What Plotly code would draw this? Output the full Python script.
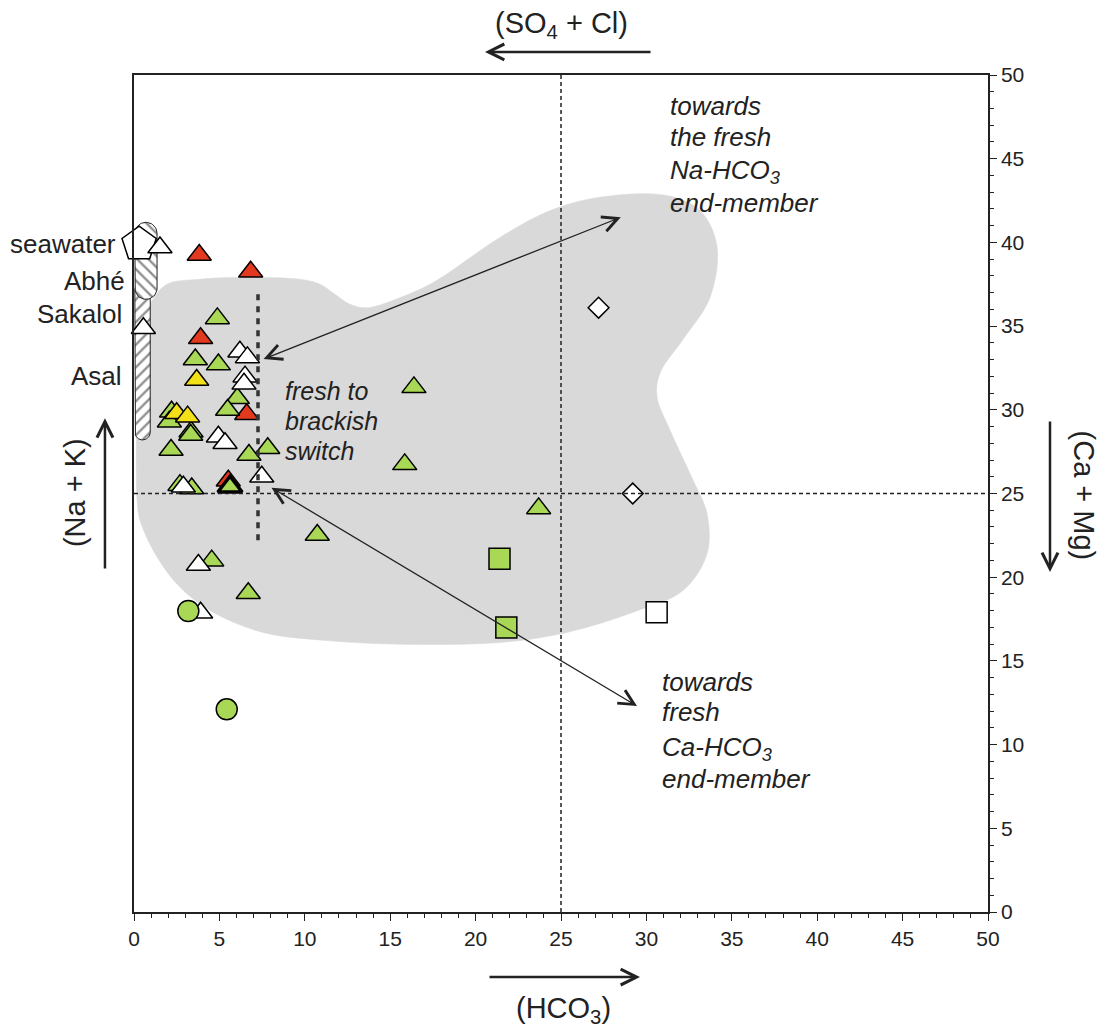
import numpy as np
import plotly.graph_objects as go

FONT = "Liberation Sans, Arial, Helvetica, sans-serif"
GREEN = "#A8D856"
RED = "#E3391F"
YELLOW = "#F2E018"
INK = "#222222"

# ---- samples (HCO3 %, Na+K %) ----
red_tri_x = [3.82, 6.83, 3.90, 6.60, 5.52]
red_tri_y = [39.25, 38.25, 34.27, 29.73, 25.76]

yellow_tri_x = [3.67, 2.50, 3.14]
yellow_tri_y = [31.78, 29.79, 29.59]

green_tri_x = [4.88, 3.59, 4.94, 6.05, 5.48, 2.20, 2.07, 3.34, 3.32, 2.17, 6.73,
               7.83, 2.69, 3.38, 16.39, 15.85, 10.73, 23.69, 4.55, 6.69]
green_tri_y = [35.46, 33.00, 32.70, 30.69, 29.99, 29.88, 29.29, 28.69, 28.49, 27.60,
               27.30, 27.70, 25.50, 25.30, 31.34, 26.74, 22.52, 24.11, 20.99, 19.04]

white_tri_x = [1.52, 0.55, 6.20, 6.64, 6.50, 6.44, 4.94, 5.33, 7.48, 2.89, 3.77, 3.90]
white_tri_y = [39.70, 34.87, 33.47, 33.13, 31.98, 31.55, 28.39, 28.00, 26.00, 25.40, 20.73, 17.88]

bold_tri_x = [5.62]
bold_tri_y = [25.40]

green_circle_x = [3.18, 5.43]
green_circle_y = [17.98, 12.11]

green_square_x = [21.40, 21.80]
green_square_y = [21.10, 17.00]

white_square_x = [30.60]
white_square_y = [17.90]

white_diamond_x = [27.20, 29.20]
white_diamond_y = [36.10, 25.00]

seawater_x = [0.30]
seawater_y = [39.90]

# ---- lake fields (x centre, half width, y bottom, y top) ----
abhe_field = (0.70, 0.65, 36.6, 41.2)
asal_field = (0.50, 0.45, 28.2, 37.6)

# ---- outline of the shaded domain ----
domain_x = [0.18, 0.18, 0.35, 1.11, 1.93, 3.86, 5.80, 9.72, 10.89, 11.77, 12.65, 13.64,
            15.57, 17.51, 21.43, 24.36, 27.28, 31.20, 33.14, 34.13, 33.72, 32.14, 30.80,
            30.62, 31.38, 32.73, 33.55, 33.55, 32.14, 29.22, 25.35, 21.43, 15.57, 11.48,
            7.55, 4.63, 2.69, 1.35, 0.35, 0.18]
domain_y = [24.6, 30.6, 34.8, 36.6, 37.5, 37.8, 37.9, 37.8, 37.5, 36.9, 36.3, 36.1,
            36.7, 37.6, 40.3, 41.9, 42.7, 42.8, 41.9, 39.8, 36.7, 34.2, 32.2,
            30.8, 28.8, 25.8, 23.8, 21.4, 19.2, 17.9, 16.7, 16.1, 16.0, 16.2,
            16.7, 17.9, 19.4, 21.2, 23.4, 24.6]

# fresh-to-brackish switch line
switch_x = 7.26
switch_y = (22.2, 36.9)

# mixing arrows (tail, head)
arrow_na = ((7.5, 33.0), (28.5, 41.5))
arrow_ca = ((7.96, 25.4), (29.45, 12.3))

# text blocks: (x, [line y positions], [lines])
na_note = (31.26, [48.15, 46.30, 44.22, 42.38],
           ["towards", "the fresh", "Na-HCO<sub>3</sub>", "end-member"])
ca_note = (30.80, [13.74, 11.95, 9.78, 7.93],
           ["towards", "fresh", "Ca-HCO<sub>3</sub>", "end-member"])
switch_note = (8.72, [31.12, 29.33, 27.54], ["fresh to", "brackish", "switch"])

side_labels = ["seawater", "Abhé", "Sakalol", "Asal"]
side_label_y = [39.9, 37.7, 35.7, 32.0]

fig = go.Figure()

fig.add_trace(go.Scatter(
    x=domain_x, y=domain_y, mode="lines", line=dict(shape="spline", color="#D9D9D9", width=0.5,
                                                    smoothing=1.0),
    fill="toself", fillcolor="#D9D9D9", hoverinfo="skip", showlegend=False))

# aspect correction so the rounded caps stay round on screen
PX_X = 854 / 50.0
PX_Y = 837 / 50.0


def stadium(xc, hw, y0, y1):
    ry = hw * PX_X / PX_Y
    t = np.linspace(0, np.pi, 25)
    top_x = xc + hw * np.cos(t)
    top_y = (y1 - ry) + ry * np.sin(t)
    bot_x = xc - hw * np.cos(t)
    bot_y = (y0 + ry) - ry * np.sin(t)
    xs = np.concatenate([top_x, bot_x, top_x[:1]])
    ys = np.concatenate([top_y, bot_y, top_y[:1]])
    return xs, ys


for field, pat in ((asal_field, "/"), (abhe_field, "\\")):
    sx, sy = stadium(*field)
    fig.add_trace(go.Scatter(
        x=sx, y=sy, mode="lines", line=dict(color=INK, width=1),
        fill="toself", fillcolor="white",
        fillpattern=dict(shape=pat, fgcolor="#222222", bgcolor="white", size=8, solidity=0.3),
        hoverinfo="skip", showlegend=False, cliponaxis=False))

# reference lines
fig.add_shape(type="line", xref="x", yref="y", x0=25, x1=25, y0=0, y1=50,
              line=dict(color=INK, width=1.5, dash="4px,3px"))
fig.add_shape(type="line", xref="x", yref="y", x0=0, x1=50, y0=25, y1=25,
              line=dict(color=INK, width=1.5, dash="4px,3px"))
fig.add_shape(type="line", xref="x", yref="y", x0=switch_x, x1=switch_x,
              y0=switch_y[0], y1=switch_y[1],
              line=dict(color="#333333", width=3.5, dash="6px,6px"))


def markers(x, y, symbol, color, size, lw=1.5):
    fig.add_trace(go.Scatter(
        x=x, y=y, mode="markers", cliponaxis=False,
        marker=dict(symbol=symbol, color=color, size=size,
                    line=dict(color="black", width=lw)),
        hoverinfo="skip", showlegend=False))


markers(seawater_x, seawater_y, "pentagon", "white", 36)
markers(red_tri_x, red_tri_y, "triangle-up", RED, 21)
markers(green_tri_x, green_tri_y, "triangle-up", GREEN, 21)
markers(yellow_tri_x, yellow_tri_y, "triangle-up", YELLOW, 21)
markers(white_tri_x, white_tri_y, "triangle-up", "white", 21)
markers(bold_tri_x, bold_tri_y, "triangle-up", GREEN, 21, lw=3.5)
markers(green_circle_x, green_circle_y, "circle", GREEN, 21)
markers(green_square_x, green_square_y, "square", GREEN, 21)
markers(white_square_x, white_square_y, "square", "white", 21)
markers(white_diamond_x, white_diamond_y, "diamond", "white", 16)

# double headed mixing arrows
for (tail, head) in (arrow_na, arrow_ca):
    fig.add_annotation(x=head[0], y=head[1], ax=tail[0], ay=tail[1], xref="x", yref="y",
                       axref="x", ayref="y", text="", showarrow=True, arrowhead=5,
                       startarrowhead=5, arrowside="end+start", arrowsize=2.3,
                       startarrowsize=2.3, arrowwidth=1.3, arrowcolor=INK)

for (nx, ys, lines), fsize in ((na_note, 26), (ca_note, 26), (switch_note, 25)):
    for yv, line in zip(ys, lines):
        fig.add_annotation(x=nx, y=yv, xref="x", yref="y", xanchor="left", yanchor="middle",
                           align="left", showarrow=False, text="<i>" + line + "</i>",
                           font=dict(family=FONT, size=fsize, color=INK))

# end-member labels on the left
side_font = dict(family=FONT, size=26, color=INK)
for label, yv, xr in zip(side_labels, side_label_y, [-0.0187, -0.0082, -0.0117, -0.0117]):
    fig.add_annotation(x=xr, y=yv, xref="paper", yref="y", xanchor="right", yanchor="middle",
                       showarrow=False, text=label, font=side_font)

# axis direction arrows and titles (positions in plot-domain fractions)
axis_font = dict(family=FONT, size=29, color=INK)
axis_arrows = [
    (0.411, 1.0275, 0.6066, 1.0275),
    (0.5925, -0.0777, 0.4145, -0.0777),
    (-0.034, 0.590, -0.034, 0.4086),
    (1.0726, 0.4062, 1.0726, 0.5878),
]
for hx, hy, tx, ty in axis_arrows:
    fig.add_annotation(x=hx, y=hy, ax=tx, ay=ty, xref="x domain", yref="y domain",
                       axref="x domain", ayref="y domain", text="", showarrow=True,
                       arrowhead=5, arrowsize=1.25, arrowwidth=2.5, arrowcolor=INK)

for text, ax_x, ax_y, ang in (("(SO<sub>4</sub> + Cl)", 0.501, 1.0597, 0),
                              ("(HCO<sub>3</sub>)", 0.5035, -0.117, 0),
                              ("(Na + K)", -0.069, 0.5006, -90),
                              ("(Ca + Mg)", 1.112, 0.498, 90)):
    fig.add_annotation(x=ax_x, y=ax_y, xref="paper", yref="paper", showarrow=False,
                       xanchor="center", yanchor="middle", text=text, textangle=ang,
                       font=axis_font)

axis_common = dict(range=[0, 50], dtick=5, tick0=0, ticks="outside", ticklen=7, tickwidth=1.3,
                   tickcolor=INK, showline=True, linecolor=INK, linewidth=1.5, mirror=True,
                   showgrid=False, zeroline=False, tickfont=dict(family=FONT, size=21, color=INK),
                   minor=dict(dtick=1, ticks="outside", ticklen=4, tickwidth=1, tickcolor=INK))

fig.update_xaxes(**axis_common)
fig.update_yaxes(side="right", **axis_common)

fig.update_layout(width=1107, height=1030, margin=dict(l=134, r=119, t=75, b=118),
                  paper_bgcolor="white", plot_bgcolor="white", showlegend=False,
                  font=dict(family=FONT, color=INK))

fig.write_html("out.html")
